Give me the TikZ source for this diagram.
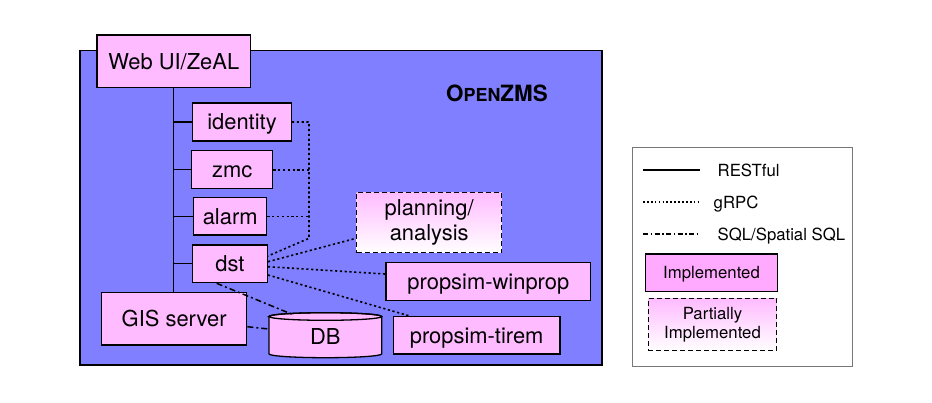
\documentclass[tikz,border=0pt]{standalone}
\usepackage{fontspec}
\setmainfont{TeX Gyre Heros}
\usetikzlibrary{calc}
\definecolor{pinkc}{HTML}{FFBBFF}
\definecolor{pinkl}{HTML}{FFAAFF}
\definecolor{bluec}{HTML}{7F7FFF}
\definecolor{legframe}{HTML}{777777}
\begin{document}
\begin{tikzpicture}[x=1bp,y=-1bp,
  pfont/.style={font=\fontsize{22}{25}\selectfont},
  lfont/.style={font=\fontsize{16.8}{19}\selectfont},
  pbox/.style={draw, fill=pinkc, line width=1.3bp, inner sep=0pt, pfont, text height=15.8bp, text depth=0bp},
  partial/.style={draw, dash pattern=on 5bp off 3bp, line width=1.4bp, top color=pinkc, bottom color=white, inner sep=0pt, align=center},
  rest/.style={line width=1.3bp},
  grpc/.style={line width=1.6bp, dash pattern=on 2.2bp off 2.6bp},
  sqlline/.style={line width=1.5bp, dash pattern=on 6bp off 3bp on 2bp off 3bp},
  legline/.style={line width=1.1bp},
]
\useasboundingbox (0,0) rectangle (932,402);

% OpenZMS container
\filldraw[fill=bluec, line width=1.5bp] (80,50.5) rectangle (602,365);
\node[font=\bfseries\fontsize{22.5}{26}\selectfont, inner sep=0pt] (title) at (497,93.5)
  {O{\fontsize{18}{20}\selectfont PEN}ZMS};

% components
\node[pbox, minimum width=153.5bp, minimum height=52.5bp] (webui) at (173.75,61.25) {Web UI/ZeAL};
\node[pbox, minimum width=98.6bp, minimum height=38bp] (identity) at (242,122) {identity};
\node[pbox, minimum width=81bp, minimum height=38bp] (zmc) at (232.2,169.7) {zmc};
\node[pbox, minimum width=73bp, minimum height=37.3bp] (alarm) at (230.2,216.3) {alarm};
\node[pbox, minimum width=74.6bp, minimum height=37.7bp] (dst) at (230,263.8) {dst};
\node[pbox, minimum width=145bp, minimum height=52.7bp] (gis) at (174.2,318.6) {GIS server};
\node[partial, pfont, minimum width=145bp, minimum height=60.4bp] (planning) at (429.2,222.5) {planning/\\analysis};
\node[pbox, minimum width=204.7bp, minimum height=38bp] (winprop) at (488.35,281.3) {propsim-winprop};
\node[pbox, minimum width=166.7bp, minimum height=37.3bp] (tirem) at (476.65,335.35) {propsim-tirem};

% DB cylinder
\filldraw[fill=pinkc, line width=1.3bp] (269,316.5) -- (269,353.9)
  arc[start angle=180, end angle=360, x radius=56.35bp, y radius=3.8bp]
  -- (381.7,316.5)
  arc[start angle=0, end angle=180, x radius=56.35bp, y radius=3.8bp] -- cycle;
\draw[line width=1.3bp] (325.35,316.5) ellipse[x radius=56.35bp, y radius=3.8bp];
\node[pfont, inner sep=0pt, minimum width=112.7bp, minimum height=45bp, text height=15.8bp, text depth=0bp] (db) at (325.3,336.5) {DB};

% RESTful
\draw[rest] (webui.south) -- (webui.south |- gis.north);
\draw[rest] (identity.west) -- (identity.west -| webui.south);
\draw[rest] (zmc.west) -- (zmc.west -| webui.south);
\draw[rest] (alarm.west) -- (alarm.west -| webui.south);
\draw[rest] (dst.west) -- (dst.west -| webui.south);

% gRPC
\coordinate (gbus) at (309,238.3);
\draw[grpc] (identity.east) -| (gbus) -- ([yshift=7.8bp]dst.east);
\draw[grpc] (zmc.east) -- (zmc.east -| gbus);
\draw[grpc] (alarm.east) -- (alarm.east -| gbus);
\draw[grpc] ([yshift=2.1bp]dst.east) -- ([yshift=-15.8bp]planning.west);
\draw[grpc] ([yshift=-2.9bp]dst.east) -- ([yshift=7.3bp]winprop.west);
\draw[grpc] ([yshift=-11.2bp]dst.east) -- ([xshift=-66.65bp]tirem.north);

% SQL
\draw[sqlline] ([xshift=-13.3bp]dst.south) -- ([xshift=-32bp,yshift=-1bp]db.north);
\draw[sqlline] ([yshift=-8.1bp]gis.east) -- ([yshift=7.5bp]db.west);

% legend
\node[draw=legframe, line width=1bp, minimum width=220bp, minimum height=218.5bp, inner sep=0pt] (legend) at (742.7,256.75) {};
\coordinate (l1a) at (643,170); \coordinate (l1b) at (700,170);
\coordinate (l2a) at (643,202); \coordinate (l2b) at (700,202);
\coordinate (l3a) at (643,234); \coordinate (l3b) at (700,234);
\draw[legline] (l1a) -- (l1b);
\draw[legline, dash pattern=on 1.7bp off 2.2bp] (l2a) -- (l2b);
\draw[legline, dash pattern=on 5bp off 2.5bp on 1.5bp off 2.5bp] (l3a) -- (l3b);
\node[lfont, anchor=west, inner sep=0pt, text height=12bp, text depth=0bp] (t1) at (717.5,170) {RESTful};
\node[lfont, anchor=west, inner sep=0pt, text height=12bp, text depth=0bp] (t2) at (713.5,202) {gRPC};
\node[lfont, anchor=west, inner sep=0pt, text height=12bp, text depth=0bp] (t3) at (717.5,234) {SQL/Spatial SQL};
\node[draw, fill=pinkl, line width=1.3bp, inner sep=0pt, lfont, text height=12bp, text depth=0bp, minimum width=131.6bp, minimum height=37.7bp] (impl) at (711.5,272.85) {Implemented};
\node[partial, lfont, minimum width=128.4bp, minimum height=52.4bp] (part) at (712.5,324.5) {Partially\\Implemented};
\end{tikzpicture}
\end{document}
